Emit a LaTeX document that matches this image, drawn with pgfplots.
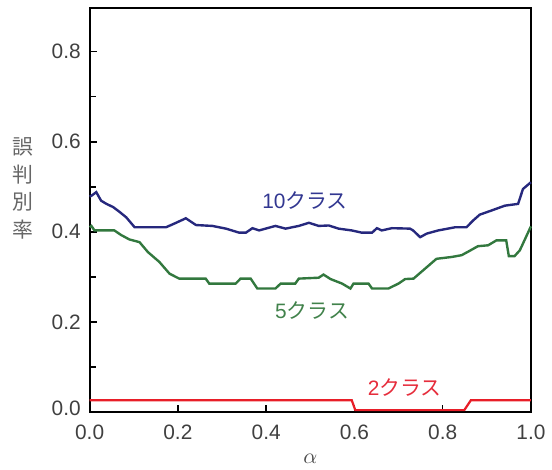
\documentclass[border=0pt]{standalone}
\usepackage{pgfplots}
\pgfplotsset{compat=1.18}
\usepackage{fontspec}
\setmainfont{Liberation Sans}
\newfontfamily\jp{Noto Sans CJK JP}

\definecolor{tenc}{RGB}{38,40,125}
\definecolor{fivec}{RGB}{50,120,62}
\definecolor{twoc}{RGB}{232,30,40}
\definecolor{tentxt}{RGB}{50,55,145}
\definecolor{fivetxt}{RGB}{65,130,75}
\definecolor{twotxt}{RGB}{230,45,60}

\begin{document}
\begin{tikzpicture}
\begin{axis}[
  scale only axis,
  width=221.5bp, height=203bp,
  xmin=0, xmax=1, ymin=-0.001, ymax=0.897,
  axis line style={line width=1bp, black},
  tick pos=left, tick align=inside,
  major tick length=3.5bp, minor tick length=3bp,
  tick style={line width=0.8bp, black},
  xtick={0,0.2,0.4,0.6,0.8,1.0},
  ytick={0,0.2,0.4,0.6,0.8},
  minor ytick={0.1,0.3,0.5,0.7},
  xticklabels={0.0,0.2,0.4,0.6,0.8,1.0},
  yticklabels={\raisebox{3.5bp}{0.0},0.2,0.4,0.6,0.8},
  /pgf/number format/assume math mode=true,
  ticklabel style={font=\fontsize{10.5}{12}\selectfont, text=black!75},
  xticklabel style={yshift=-3bp},
  yticklabel style={xshift=-1bp},
  xlabel={$\alpha$},
  xlabel style={font=\fontsize{10.5}{12}\selectfont, text=black!70, yshift=0bp},
  clip=false,
]
% 10 classes
\addplot[tenc, line width=1.2bp] coordinates {
(0.000,0.478)(0.004,0.480)(0.015,0.488)(0.026,0.469)(0.038,0.462)(0.053,0.455)
(0.068,0.444)(0.083,0.432)(0.102,0.410)(0.173,0.410)(0.196,0.420)(0.218,0.430)
(0.241,0.415)(0.278,0.413)(0.309,0.407)(0.339,0.398)(0.354,0.398)(0.369,0.408)
(0.384,0.403)(0.421,0.413)(0.444,0.407)(0.474,0.413)(0.497,0.420)(0.519,0.413)
(0.542,0.414)(0.564,0.407)(0.594,0.403)(0.617,0.398)(0.640,0.398)(0.651,0.408)
(0.662,0.403)(0.685,0.408)(0.726,0.407)(0.733,0.403)(0.749,0.388)(0.764,0.396)
(0.790,0.403)(0.828,0.410)(0.854,0.410)(0.869,0.425)(0.884,0.438)(0.910,0.447)
(0.941,0.458)(0.971,0.462)(0.982,0.495)(1.000,0.510)
};
% 5 classes
\addplot[fivec, line width=1.2bp] coordinates {
(0.000,0.410)(0.004,0.413)(0.011,0.403)(0.056,0.403)(0.071,0.393)(0.090,0.383)
(0.113,0.377)(0.132,0.355)(0.158,0.333)(0.181,0.307)(0.203,0.296)(0.263,0.296)
(0.271,0.285)(0.331,0.285)(0.342,0.296)(0.365,0.296)(0.380,0.274)(0.421,0.274)
(0.433,0.285)(0.466,0.285)(0.474,0.296)(0.519,0.298)(0.530,0.305)(0.546,0.295)
(0.572,0.285)(0.591,0.274)(0.598,0.285)(0.632,0.285)(0.640,0.274)(0.677,0.274)
(0.700,0.285)(0.715,0.295)(0.734,0.296)(0.760,0.318)(0.786,0.340)(0.820,0.344)
(0.843,0.348)(0.858,0.356)(0.880,0.368)(0.903,0.370)(0.922,0.381)(0.944,0.381)
(0.950,0.346)(0.963,0.346)(0.975,0.359)(1.000,0.412)
};
% 2 classes
\addplot[twoc, line width=1.1bp] coordinates {
(0.000,0.026)(0.594,0.026)(0.602,0.004)(0.849,0.004)(0.864,0.026)(1.000,0.026)
};
\node[font=\fontsize{10.5}{12}\selectfont, text=tentxt] at (axis cs:0.488,0.469) {10{\jp クラス}};
\node[font=\fontsize{10.5}{12}\selectfont, text=fivetxt] at (axis cs:0.504,0.226) {5{\jp クラス}};
\node[font=\fontsize{10.5}{12}\selectfont, text=twotxt] at (axis cs:0.714,0.053) {2{\jp クラス}};
\node[font=\jp\fontsize{10.5}{14}\selectfont, text=black!60, align=center]
  at (axis description cs:-0.151,0.554) {誤\\判\\別\\率};
\end{axis}
\path (current axis.south west) +(-45bp,-25.5bp);
\path (current axis.north east) +(9.5bp,4bp);
\end{tikzpicture}
\end{document}
